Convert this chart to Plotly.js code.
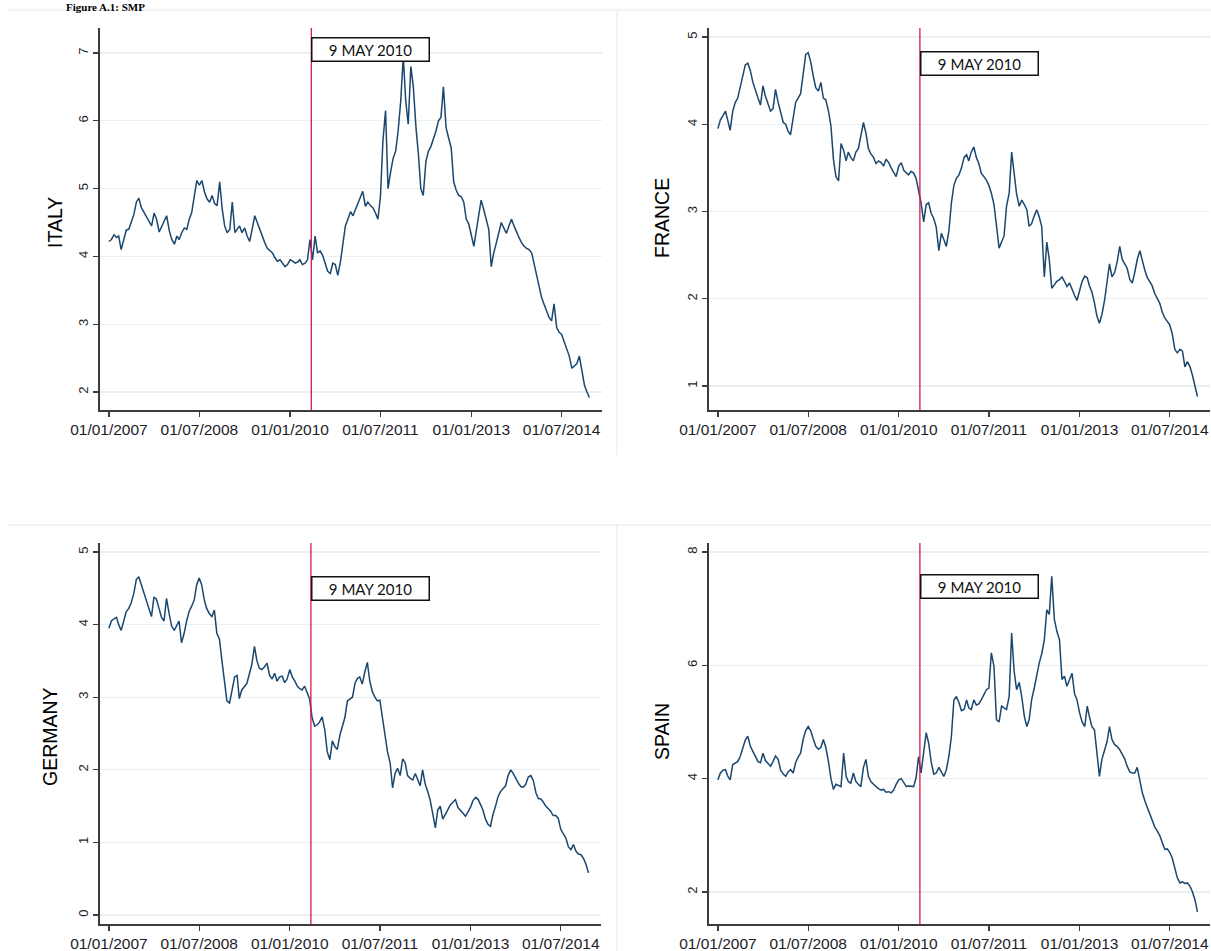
<!DOCTYPE html>
<html>
<head>
<meta charset="utf-8">
<script src="https://cdn.plot.ly/plotly-3.0.1.min.js"></script>
<style>
  html, body { margin: 0; padding: 0; background: #ffffff; }
  #chart { width: 1211px; height: 951px; }
</style>
</head>
<body>
<div id="chart"></div>
<script>
// Observation dates: 1st and 16th of every month, Jan 2007 - Dec 2014
const dates = [];
for (let yr = 2007; yr <= 2014; yr++) {
  for (let mo = 1; mo <= 12; mo++) {
    for (const d of ['01', '16']) dates.push(yr + '-' + String(mo).padStart(2, '0') + '-' + d);
  }
}

// 10-year government bond yields (%), one row per year
const italy = [
  4.22,4.25,4.32,4.28,4.30,4.10,4.25,4.39,4.40,4.50,4.62,4.80,4.86,4.72,4.65,4.58,4.52,4.45,4.64,4.55,4.36,4.45,4.52,4.60,
  4.38,4.25,4.18,4.30,4.25,4.35,4.42,4.40,4.55,4.65,4.90,5.12,5.05,5.12,4.95,4.85,4.80,4.90,4.78,4.75,5.10,4.70,4.45,4.35,
  4.40,4.80,4.35,4.40,4.45,4.35,4.42,4.30,4.22,4.40,4.60,4.50,4.40,4.28,4.20,4.12,4.08,4.05,3.98,3.93,3.95,3.90,3.85,3.88,
  3.95,3.93,3.90,3.92,3.95,3.88,3.90,3.95,4.25,3.95,4.30,4.05,4.08,4.02,3.88,3.78,3.75,3.90,3.88,3.72,3.92,4.20,4.45,4.55,
  4.66,4.60,4.70,4.78,4.85,4.96,4.74,4.80,4.75,4.72,4.64,4.55,4.88,5.70,6.15,5.00,5.25,5.45,5.55,5.85,6.30,6.95,6.30,5.95,
  6.80,6.50,5.90,5.50,5.00,4.90,5.40,5.55,5.62,5.72,5.85,6.00,6.05,6.50,5.90,5.75,5.60,5.10,4.98,4.90,4.88,4.80,4.55,4.48,
  4.30,4.15,4.40,4.60,4.83,4.70,4.55,4.40,3.85,4.05,4.20,4.35,4.50,4.42,4.34,4.45,4.55,4.45,4.35,4.28,4.20,4.15,4.12,4.10,
  4.05,3.88,3.70,3.55,3.40,3.30,3.20,3.10,3.05,3.30,2.95,2.88,2.85,2.75,2.65,2.53,2.35,2.38,2.42,2.53,2.33,2.10,2.00,1.92
];

const france = [
  3.95,4.05,4.10,4.15,4.05,3.93,4.15,4.25,4.30,4.42,4.57,4.68,4.70,4.62,4.48,4.38,4.30,4.22,4.44,4.32,4.22,4.15,4.18,4.40,
  4.25,4.12,4.02,4.00,3.92,3.88,4.08,4.25,4.30,4.35,4.58,4.80,4.82,4.72,4.55,4.42,4.38,4.48,4.30,4.28,4.15,3.98,3.60,3.40,
  3.35,3.78,3.70,3.58,3.68,3.62,3.58,3.68,3.72,3.85,4.02,3.90,3.72,3.66,3.62,3.55,3.58,3.56,3.52,3.60,3.56,3.50,3.45,3.40,
  3.52,3.56,3.47,3.44,3.42,3.46,3.44,3.38,3.25,3.10,2.88,3.08,3.10,2.98,2.92,2.82,2.55,2.75,2.68,2.60,2.78,3.10,3.30,3.38,
  3.42,3.50,3.62,3.65,3.58,3.68,3.74,3.62,3.55,3.44,3.40,3.36,3.30,3.21,3.08,2.80,2.58,2.65,2.72,3.06,3.21,3.68,3.40,3.20,
  3.06,3.13,3.08,3.02,2.83,2.86,2.95,3.02,2.94,2.83,2.25,2.65,2.45,2.12,2.16,2.20,2.22,2.25,2.20,2.14,2.18,2.10,2.04,1.98,
  2.08,2.20,2.26,2.24,2.15,2.08,1.95,1.80,1.72,1.82,1.98,2.20,2.40,2.25,2.30,2.42,2.60,2.45,2.40,2.35,2.22,2.18,2.30,2.45,
  2.55,2.42,2.32,2.24,2.20,2.15,2.06,2.00,1.95,1.85,1.78,1.74,1.70,1.60,1.42,1.38,1.42,1.40,1.22,1.28,1.22,1.12,1.00,0.88
];

const germany = [
  3.95,4.05,4.08,4.10,4.00,3.92,4.05,4.18,4.22,4.30,4.43,4.62,4.66,4.55,4.43,4.32,4.22,4.11,4.38,4.35,4.22,4.10,4.05,4.36,
  4.15,3.98,3.92,4.00,4.05,3.75,3.88,4.05,4.18,4.25,4.34,4.55,4.64,4.55,4.34,4.22,4.15,4.11,4.20,3.88,3.80,3.50,3.18,2.95,
  2.92,3.10,3.28,3.30,2.98,3.10,3.15,3.19,3.32,3.45,3.70,3.50,3.40,3.38,3.42,3.47,3.30,3.25,3.33,3.22,3.28,3.29,3.20,3.25,
  3.38,3.28,3.22,3.15,3.12,3.10,3.15,3.06,2.98,2.72,2.60,2.62,2.66,2.73,2.55,2.25,2.14,2.40,2.32,2.28,2.48,2.60,2.72,2.95,
  2.98,3.00,3.20,3.26,3.28,3.18,3.35,3.48,3.22,3.08,3.00,2.95,2.96,2.72,2.45,2.25,2.10,1.75,1.95,2.02,1.92,2.15,2.10,1.92,
  1.88,1.86,1.95,1.85,1.78,2.00,1.80,1.70,1.58,1.40,1.20,1.45,1.50,1.32,1.40,1.45,1.52,1.56,1.59,1.48,1.43,1.40,1.36,1.42,
  1.49,1.58,1.62,1.59,1.52,1.45,1.32,1.25,1.22,1.38,1.50,1.63,1.70,1.74,1.78,1.92,2.00,1.95,1.88,1.82,1.77,1.76,1.80,1.90,
  1.92,1.85,1.68,1.60,1.60,1.56,1.50,1.47,1.43,1.37,1.37,1.33,1.18,1.12,1.06,0.94,0.90,0.97,0.88,0.84,0.83,0.78,0.70,0.58
];

const spain = [
  3.98,4.10,4.15,4.16,4.05,3.98,4.25,4.28,4.30,4.39,4.55,4.68,4.75,4.58,4.48,4.39,4.30,4.28,4.45,4.32,4.26,4.22,4.30,4.40,
  4.34,4.15,4.08,4.04,4.12,4.16,4.10,4.28,4.38,4.45,4.70,4.85,4.92,4.85,4.70,4.57,4.52,4.55,4.69,4.55,4.30,4.00,3.81,3.90,
  3.88,3.86,4.45,4.04,3.95,3.92,4.10,3.95,3.90,3.86,4.20,4.34,4.04,3.95,3.90,3.86,3.82,3.80,3.81,3.76,3.77,3.75,3.80,3.90,
  3.98,4.00,3.92,3.86,3.87,3.86,3.86,4.02,4.39,4.10,4.50,4.81,4.63,4.30,4.08,4.10,4.20,4.12,4.04,4.15,4.40,4.75,5.39,5.45,
  5.34,5.20,5.22,5.39,5.25,5.22,5.39,5.30,5.32,5.39,5.50,5.57,5.60,6.22,5.98,5.04,5.00,5.28,5.25,5.22,5.45,6.57,5.90,5.57,
  5.70,5.45,5.10,4.92,5.04,5.39,5.60,5.86,6.04,6.20,6.45,6.98,6.90,7.57,6.81,6.60,6.45,5.75,5.81,5.63,5.75,5.86,5.50,5.39,
  5.16,5.00,4.92,5.28,5.10,4.92,4.86,4.40,4.04,4.34,4.50,4.65,4.92,4.69,4.60,4.57,4.51,4.42,4.35,4.22,4.12,4.10,4.10,4.20,
  3.98,3.75,3.60,3.48,3.38,3.25,3.15,3.08,3.00,2.88,2.75,2.76,2.70,2.60,2.42,2.25,2.16,2.18,2.15,2.16,2.10,2.00,1.86,1.65
];

const countries = ['ITALY', 'FRANCE', 'GERMANY', 'SPAIN'];
const seriesList = [italy, france, germany, spain];

const tickDates = ['2007-01-01', '2008-07-01', '2010-01-01', '2011-07-01', '2013-01-01', '2014-07-01'];
const tickLabels = ['01/01/2007', '01/07/2008', '01/01/2010', '01/07/2011', '01/01/2013', '01/07/2014'];

const eventDate = '2010-05-09';
const eventLabel = '9 MAY 2010';
const figureTitle = 'Figure A.1: SMP';

// ---- layout helpers (pixel -> paper fractions) ----
const W = 1211, H = 951;
const fx = p => p / W;
const fy = p => 1 - p / H;

// panel geometry in pixels: plot box, y range, tick step, label box top, title centre
const panels = [
  { left: 100, right: 602, top: 28, bottom: 410, yr: [1.735, 7.369], dtick: 1, boxTop: 37, titleX: 55, titleY: 223 },
  { left: 709, right: 1210, top: 28, bottom: 410, yr: [0.725, 5.103], dtick: 1, boxTop: 51, titleX: 662, titleY: 218 },
  { left: 100, right: 601, top: 543, bottom: 924, yr: [-0.124, 5.124], dtick: 1, boxTop: 576, titleX: 50, titleY: 737 },
  { left: 709, right: 1210, top: 543, bottom: 924, yr: [1.435, 8.159], dtick: 2, boxTop: 574, titleX: 662, titleY: 732 }
];

const xRange = ['2006-11-08', '2015-03-02'];
const lineColor = '#1a476f';
const axisColor = '#3c3c3c';
const gridColor = '#e9f0f2';
const eventColor = '#d8194b';
const tickFont = { family: 'Liberation Sans, Arial, sans-serif', size: 15.5, color: '#1c1c28' };

const traces = [];
const layout = {
  width: W, height: H,
  margin: { l: 0, r: 0, t: 0, b: 0 },
  paper_bgcolor: '#ffffff',
  plot_bgcolor: '#ffffff',
  showlegend: false,
  shapes: [],
  annotations: []
};

panels.forEach((p, i) => {
  const n = i + 1;
  const xa = n === 1 ? 'xaxis' : 'xaxis' + n;
  const ya = n === 1 ? 'yaxis' : 'yaxis' + n;
  const xr = n === 1 ? 'x' : 'x' + n;
  const yr = n === 1 ? 'y' : 'y' + n;

  traces.push({
    type: 'scatter', mode: 'lines',
    x: dates, y: seriesList[i],
    xaxis: xr, yaxis: yr,
    line: { color: lineColor, width: 1.5 },
    hoverinfo: 'x+y', name: countries[i]
  });

  layout[xa] = {
    domain: [fx(p.left), fx(p.right)],
    anchor: yr,
    type: 'date',
    range: xRange,
    tickmode: 'array', tickvals: tickDates, ticktext: tickLabels,
    ticks: 'outside', ticklen: 5, tickwidth: 1.3, tickcolor: axisColor,
    showline: true, linecolor: axisColor, linewidth: 1.6,
    showgrid: false, zeroline: false,
    tickfont: tickFont, tickangle: 0
  };
  layout[ya] = {
    domain: [fy(p.bottom), fy(p.top)],
    anchor: xr,
    range: p.yr,
    dtick: p.dtick, tick0: 0,
    ticks: 'outside', ticklen: 5, tickwidth: 1.3, tickcolor: axisColor,
    showline: true, linecolor: axisColor, linewidth: 1.6,
    showgrid: true, gridcolor: gridColor, gridwidth: 1.2,
    zeroline: false,
    tickangle: -90,
    tickfont: { family: 'Liberation Sans, Arial, sans-serif', size: 13, color: '#1c1c28' }
  };

  // event marker line
  layout.shapes.push({
    type: 'line', xref: xr, yref: yr + ' domain',
    x0: eventDate, x1: eventDate, y0: 0, y1: 1,
    line: { color: eventColor, width: 1.3 }
  });

  // event label box
  layout.annotations.push({
    xref: xr, yref: 'paper',
    x: eventDate, y: fy(p.boxTop),
    xanchor: 'left', yanchor: 'top',
    text: eventLabel, showarrow: false,
    width: 114, height: 20,
    bgcolor: '#ffffff', bordercolor: '#111111', borderwidth: 1.5, borderpad: 1,
    font: { family: 'Lato, Open Sans, sans-serif', size: 15, color: '#111111' }
  });

  // country name as vertical axis title
  layout.annotations.push({
    xref: 'paper', yref: 'paper',
    x: fx(p.titleX), y: fy(p.titleY),
    xanchor: 'center', yanchor: 'middle',
    text: countries[i], showarrow: false, textangle: -90,
    font: { family: 'Liberation Sans, Arial, sans-serif', size: 19.5, color: '#000000' }
  });
});

// faint panel separators
const sepColor = '#e2eaea';
[
  [8, 10, W, 10], [617, 10, 617, 455],
  [8, 525, W, 525], [617, 525, 617, H]
].forEach(s => layout.shapes.push({
  type: 'line', xref: 'paper', yref: 'paper',
  x0: fx(s[0]), y0: fy(s[1]), x1: fx(s[2]), y1: fy(s[3]),
  line: { color: sepColor, width: 1 }, layer: 'below'
}));

// figure heading in the narrow strip above the panels
layout.annotations.push({
  xref: 'paper', yref: 'paper',
  x: fx(146), y: 1,
  xanchor: 'right', yanchor: 'top',
  text: '<b>' + figureTitle + '</b>', showarrow: false, borderpad: 0,
  font: { family: 'Liberation Serif, Times New Roman, serif', size: 11, color: '#000000' }
});

Plotly.newPlot('chart', traces, layout, { staticPlot: true, displayModeBar: false });
</script>
</body>
</html>
